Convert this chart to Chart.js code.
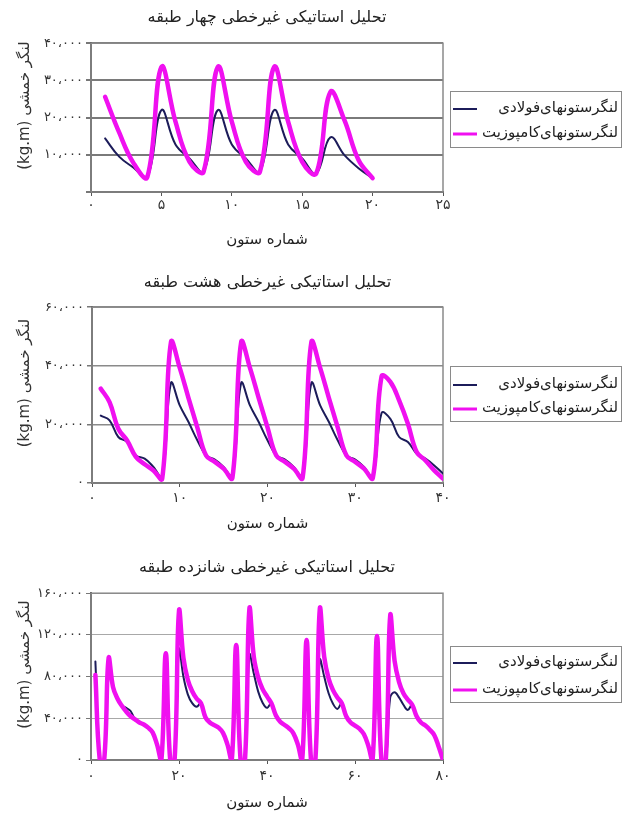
<!DOCTYPE html>
<html>
<head>
<meta charset="utf-8">
<script src="https://cdn.jsdelivr.net/npm/chart.js@4.4.1/dist/chart.umd.min.js"></script>
<style>
  body { margin: 0; background: #fff; }
  canvas { position: absolute; left: 0; }
</style>
</head>
<body>
<canvas id="c4" width="625" height="258" style="top:0px"></canvas>
<canvas id="c8" width="625" height="282" style="top:258px"></canvas>
<canvas id="c16" width="625" height="276" style="top:540px"></canvas>
<script>
const LABEL_STEEL = "لنگرستونهای‌فولادی";
const LABEL_COMP = "لنگرستونهای‌کامپوزیت";
// leading spaces lift the rotated title a little above the plot centre, as in the original
const Y_TITLE = "     (kg.m) لنگر خمشی";
const X_TITLE = "شماره ستون";

// four storeys, columns 1..20
const title4 = "تحلیل استاتیکی غیرخطی چهار طبقه";
const steel4 = [14400, 9500, 6600, 4000, 22000, 12800, 9000, 5500, 22000, 12800,
                9000, 5500, 22000, 12800, 9000, 5000, 14700, 9900, 6400, 3700];
const comp4 = [25600, 16000, 7900, 4000, 33600, 18900, 8100, 5500, 33600, 18900,
               8100, 5500, 33600, 18900, 8100, 5000, 26900, 19300, 8600, 3700];

// eight storeys, columns 1..40
const title8 = "تحلیل استاتیکی غیرخطی هشت طبقه";
const steel8 = [23000, 21400, 15700, 14000, 9400, 8300, 5500, 2000,
                34100, 26500, 20800, 14600, 9400, 8000, 5500, 2000,
                34100, 26500, 20800, 14600, 9400, 8000, 5500, 2000,
                34100, 26500, 20800, 14600, 9400, 8000, 5500, 2000,
                23900, 21900, 15700, 14000, 10000, 8300, 6000, 3200];
const comp8 = [32200, 27600, 18500, 14500, 8900, 6400, 4300, 1500,
               48100, 39300, 29000, 19000, 9400, 7200, 4900, 1700,
               48100, 39300, 29000, 19000, 9400, 7200, 4900, 1700,
               48100, 39300, 29000, 19000, 9400, 7200, 4900, 1700,
               36400, 34500, 28200, 20200, 10600, 7700, 4300, 1500];

// sixteen storeys, columns 1..80
const title16 = "تحلیل استاتیکی غیرخطی شانزده طبقه";
const steel16 = [94400, 0, 0, 97600, 70000, 58000, 52500, 50000, 47000, 39000, 36000, 34000, 31000, 26500, 15000, 0,
                 102400, 0, 0, 106000, 80000, 63000, 54500, 51000, 54400, 41000, 36000, 33500, 31000, 26000, 15000, 0,
                 110400, 0, 0, 101000, 83000, 65600, 55000, 50000, 54400, 43000, 36800, 33600, 30400, 25600, 15000, 0,
                 115200, 0, 0, 96000, 80000, 64000, 54000, 49000, 54400, 42000, 36000, 33000, 30000, 25000, 14000, 0,
                 75200, 0, 0, 60000, 65000, 60000, 53000, 48000, 53000, 42000, 36000, 33000, 29000, 24000, 13000, 0];
const comp16 = [81600, 0, 0, 97600, 70000, 59000, 52000, 46500, 42000, 39000, 36000, 34000, 31000, 26500, 15000, 0,
                102400, 0, 0, 143000, 98000, 77000, 66000, 59000, 54400, 41000, 36000, 33500, 31000, 26000, 15000, 0,
                110400, 0, 0, 145000, 99000, 79000, 68000, 61000, 54400, 43000, 36800, 33600, 30400, 25600, 15000, 0,
                115200, 0, 0, 145000, 99000, 78000, 67000, 60000, 54400, 42000, 36000, 33000, 30000, 25000, 14000, 0,
                119000, 0, 0, 138500, 95000, 75000, 64000, 58000, 53000, 42000, 36000, 33000, 29000, 24000, 13000, 0];

const FONT = "'DejaVu Sans', sans-serif";
const STEEL_COLOR = "#1c1c5a";
const COMP_COLOR = "#f010f0";
const FA_DIGITS = "۰۱۲۳۴۵۶۷۸۹";

function faNum(v) {
    const s = Math.round(v).toString().replace(/\B(?=(\d{3})+(?!\d))/g, ",");
    return s.replace(/\d/g, d => FA_DIGITS[d]).replace(/,/g, "،");
}

function points(arr) {
    return arr.map((v, i) => ({ x: i + 1, y: v }));
}

// grey frame round the plot area
const frame = {
    id: "frame",
    beforeDatasetsDraw(chart) {
        const a = chart.chartArea;
        const ctx = chart.ctx;
        ctx.save();
        ctx.strokeStyle = "#8a8a8a";
        ctx.lineWidth = 1.5;
        ctx.strokeRect(a.left, a.top, a.right - a.left, a.bottom - a.top);
        ctx.restore();
    },
};

// boxed legend to the right, line sample on the left of the text
const boxLegend = {
    id: "boxLegend",
    afterDraw(chart, args, opts) {
        const ctx = chart.ctx;
        ctx.save();
        ctx.strokeStyle = "#8a8a8a";
        ctx.lineWidth = 1;
        ctx.strokeRect(opts.left + 0.5, opts.top + 0.5, opts.width, opts.height);
        ctx.font = "15px " + FONT;
        ctx.textAlign = "right";
        ctx.textBaseline = "middle";
        chart.data.datasets.forEach((ds, i) => {
            const y = opts.top + opts.rows[i];
            ctx.fillStyle = "#222";
            ctx.fillText(ds.label, opts.left + opts.width - 3, y);
            ctx.strokeStyle = ds.borderColor;
            ctx.lineWidth = ds.borderWidth > 2 ? 3 : 2;
            ctx.beginPath();
            ctx.moveTo(opts.left + 3, y + 1);
            ctx.lineTo(opts.left + 27, y + 1);
            ctx.stroke();
        });
        ctx.restore();
    },
};

function makeChart(id, cfg) {
    return new Chart(document.getElementById(id), {
        type: "line",
        data: {
            datasets: [{
                label: LABEL_STEEL,
                data: points(cfg.steel),
                borderColor: STEEL_COLOR,
                borderWidth: 2,
                order: 1,
            }, {
                label: LABEL_COMP,
                data: points(cfg.comp),
                borderColor: COMP_COLOR,
                borderWidth: 4.5,
                order: 0,
            }],
        },
        options: {
            responsive: false,
            animation: false,
            devicePixelRatio: 1,
            layout: { padding: { left: 0, right: 182, top: 0, bottom: 0 } },
            elements: {
                point: { radius: 0 },
                line: { tension: 0.4, capBezierPoints: false, borderJoinStyle: "round", borderCapStyle: "round" },
            },
            plugins: {
                legend: { display: false },
                tooltip: { enabled: false },
                title: {
                    display: true,
                    text: cfg.title,
                    fullSize: false,
                    color: "#222",
                    font: { family: FONT, size: 16, weight: "normal" },
                    padding: cfg.titlePad,
                },
                boxLegend: cfg.legend,
            },
            scales: {
                x: {
                    type: "linear",
                    min: 0,
                    max: cfg.xMax,
                    afterFit: s => { s.height = cfg.xHeight; },
                    ticks: {
                        stepSize: cfg.xStep,
                        padding: cfg.xTickPad,
                        color: "#333",
                        font: { family: FONT, size: 14 },
                        callback: v => faNum(v),
                        maxRotation: 0,
                    },
                    grid: { drawOnChartArea: false, tickLength: 4, tickColor: "#555" },
                    border: { color: "#555", width: 2 },
                    title: {
                        display: true,
                        text: X_TITLE,
                        color: "#222",
                        font: { family: FONT, size: 15 },
                        padding: { top: 0, bottom: cfg.xTitlePad },
                    },
                },
                y: {
                    min: 0,
                    max: cfg.yMax,
                    afterFit: s => { s.width = cfg.yWidth; },
                    ticks: {
                        stepSize: cfg.yStep,
                        padding: 3,
                        color: "#333",
                        font: { family: FONT, size: 13 },
                        callback: v => (v === 0 && cfg.hideZero) ? "" : faNum(v),
                    },
                    grid: { color: cfg.gridColor, lineWidth: cfg.gridWidth, tickLength: 5, tickColor: "#777" },
                    border: { color: "#555", width: 2 },
                    title: {
                        display: true,
                        text: Y_TITLE,
                        color: "#333",
                        font: { family: FONT, size: 15 },
                        padding: { top: 16, bottom: 0 },
                    },
                },
            },
        },
        plugins: [frame, boxLegend],
    });
}

makeChart("c4", {
    title: title4, steel: steel4, comp: comp4,
    xMax: 25, xStep: 5, yMax: 40000, yStep: 10000, hideZero: true,
    titlePad: { top: 8, bottom: 16 }, xHeight: 66, yWidth: 91, xTickPad: 1, xTitlePad: 9,
    gridColor: "#7a7a7a", gridWidth: 2,
    legend: { left: 450, top: 91, width: 171, height: 56, rows: [17, 42] },
});

makeChart("c8", {
    title: title8, steel: steel8, comp: comp8,
    xMax: 40, xStep: 10, yMax: 60000, yStep: 20000, hideZero: false,
    titlePad: { top: 15, bottom: 15 }, xHeight: 57, yWidth: 92, xTickPad: 3, xTitlePad: 7,
    gridColor: "#8a8a8a", gridWidth: 1.5,
    legend: { left: 450, top: 108, width: 171, height: 55, rows: [18, 42] },
});

makeChart("c16", {
    title: title16, steel: steel16, comp: comp16,
    xMax: 80, xStep: 20, yMax: 160000, yStep: 40000, hideZero: false,
    titlePad: { top: 18, bottom: 16 }, xHeight: 56, yWidth: 91, xTickPad: 4, xTitlePad: 4,
    gridColor: "#a8a8a8", gridWidth: 1,
    legend: { left: 450, top: 106, width: 171, height: 56, rows: [16, 43] },
});
</script>
</body>
</html>
